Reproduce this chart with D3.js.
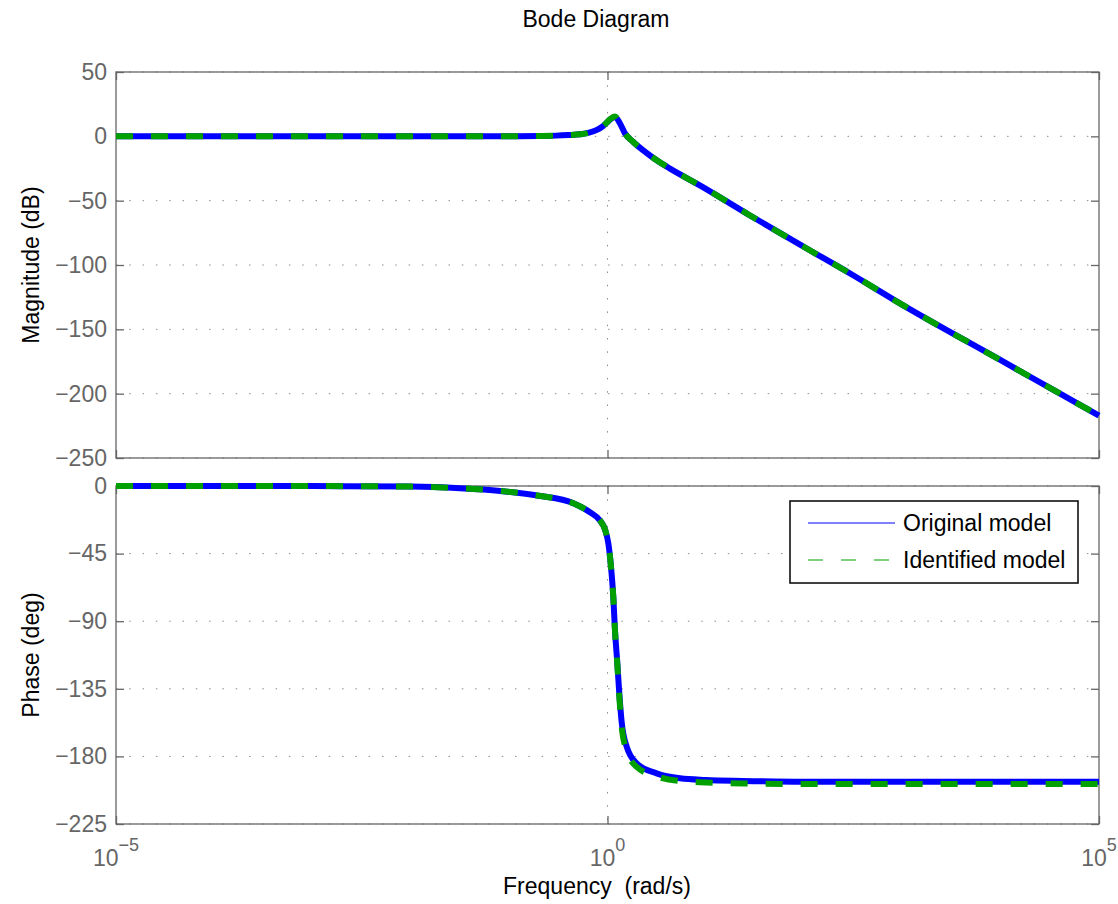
<!DOCTYPE html>
<html>
<head>
<meta charset="utf-8">
<script src="https://cdn.jsdelivr.net/npm/d3@7"></script>
<style>
  body { margin: 0; background: #fff; }
  text { font-family: "Liberation Sans", Arial, Helvetica, sans-serif; }
</style>
</head>
<body>
<div id="chart"></div>
<script>
// frequency points (rad/s) and values
const freqMag = [1e-5, 1e-4, 1e-3, 1e-2, 0.1, 0.2, 0.3, 0.4, 0.525, 0.65, 0.78, 0.9, 0.98, 1.08, 1.19,
                 1.34, 1.5, 1.83, 2.31, 3.17, 4.33, 8.7, 28.2, 100, 300, 1000, 1e4, 1e5];
const magOriginal = [0, 0, 0, 0, 0.05, 0.25, 0.55, 1.0, 1.6, 2.8, 5.0, 8.0, 10.5, 13.5, 15.0,
                     10, 2.5, -4.4, -10.9, -18.6, -25.1, -38.1, -61.5, -86, -107, -131, -174, -217];
const magIdentified = [0, 0, 0, 0, 0.05, 0.25, 0.55, 1.0, 1.6, 2.8, 5.0, 8.0, 10.6, 13.7, 15.4,
                       10, 2.5, -4.4, -10.9, -18.6, -25.1, -38.1, -61.5, -86, -107, -131, -174, -217];

const freqPhase = [1e-5, 1e-4, 1e-3, 1e-2, 0.0316, 0.081, 0.2, 0.449, 0.664, 0.839, 0.944, 1.019, 1.079,
                   1.146, 1.191, 1.259, 1.318, 1.393, 1.567, 1.98, 3.16, 5.47, 10, 24, 100, 1e3, 1e4, 1e5];
const phaseOriginal = [0, 0, -0.05, -0.4, -1.5, -3.3, -6.5, -11.5, -17.5, -23, -29, -38, -52,
                       -74, -96, -118, -138, -157, -173.5, -184.6, -191.3, -194.6, -195.7, -196.3, -196.8, -196.8, -196.8, -196.8];
const phaseIdentified = [0, 0, -0.05, -0.4, -1.5, -3.3, -6.5, -11.5, -17.5, -23, -29, -38, -52,
                         -74, -96, -119, -140, -160, -176, -187, -193.3, -196.4, -197.3, -198, -198.4, -198.4, -198.4, -198.4];

const magTicks = [50, 0, -50, -100, -150, -200, -250];
const phaseTicks = [0, -45, -90, -135, -180, -225];
const freqTicks = [1e-5, 1e0, 1e5];
const freqTickExp = ["\u22125", "0", "5"];
const seriesNames = ["Original model", "Identified model"];

const width = 1118;
const height = 904;
const left = 116, right = 1099;
const magPanel = {top: 72, bottom: 458};
const phasePanel = {top: 486, bottom: 824};

const blue = "#0000ff";
const green = "#00a000";
const axisGray = "#666666";
const fontSize = 23;

const svg = d3.select("#chart").append("svg")
    .attr("width", width)
    .attr("height", height);

const x = d3.scaleLog().domain([1e-5, 1e5]).range([left, right]);
const yMag = d3.scaleLinear().domain([-250, 50]).range([magPanel.bottom, magPanel.top]);
const yPhase = d3.scaleLinear().domain([-225, 0]).range([phasePanel.bottom, phasePanel.top]);

function minusFmt(d) { return d < 0 ? "\u2212" + Math.abs(d) : String(d); }

function drawPanel(y, panel, ticks) {
    const g = svg.append("g");
    // grid
    g.selectAll(".hgrid").data(ticks).enter().append("line")
        .attr("x1", left).attr("x2", right)
        .attr("y1", d => y(d)).attr("y2", d => y(d))
        .attr("stroke", "#8a8a8a").attr("stroke-width", 1)
        .attr("stroke-dasharray", "1.5,11.8");
    g.append("line")
        .attr("x1", x(1)).attr("x2", x(1))
        .attr("y1", panel.top).attr("y2", panel.bottom)
        .attr("stroke", "#8a8a8a").attr("stroke-width", 1)
        .attr("stroke-dasharray", "1.5,11.8");

    // box
    g.append("rect")
        .attr("x", left).attr("y", panel.top)
        .attr("width", right - left).attr("height", panel.bottom - panel.top)
        .attr("fill", "none").attr("stroke", axisGray).attr("stroke-width", 1.3);

    const yAxis = d3.axisLeft(y).tickValues(ticks).tickFormat(minusFmt)
        .tickSizeInner(-8).tickSizeOuter(0).tickPadding(9);
    const yAxisR = d3.axisRight(y).tickValues(ticks).tickFormat("")
        .tickSizeInner(-8).tickSizeOuter(0);
    const xTop = d3.axisTop(x).tickValues(freqTicks).tickFormat("")
        .tickSizeInner(-8).tickSizeOuter(0);
    const xBot = d3.axisBottom(x).tickValues(freqTicks).tickFormat("")
        .tickSizeInner(-8).tickSizeOuter(0);

    const ya = g.append("g").attr("transform", `translate(${left},0)`).call(yAxis);
    g.append("g").attr("transform", `translate(${right},0)`).call(yAxisR);
    g.append("g").attr("transform", `translate(0,${panel.top})`).call(xTop);
    g.append("g").attr("transform", `translate(0,${panel.bottom})`).call(xBot);

    g.selectAll(".domain").remove();
    g.selectAll(".tick line").attr("stroke", axisGray).attr("stroke-width", 1.3);
    ya.selectAll("text")
        .attr("font-size", fontSize).attr("fill", axisGray)
        .attr("font-family", "Liberation Sans, Arial, sans-serif");
    return g;
}

drawPanel(yMag, magPanel, magTicks);
drawPanel(yPhase, phasePanel, phaseTicks);

// x tick labels with exponents
const xl = svg.append("g");
freqTicks.forEach((f, i) => {
    const t = xl.append("text")
        .attr("x", x(f)).attr("y", 866)
        .attr("text-anchor", "middle")
        .attr("font-size", fontSize).attr("fill", axisGray);
    t.append("tspan").text("10");
    t.append("tspan").attr("dy", -15).attr("font-size", 18).text(freqTickExp[i]);
});

// lines
const magLine = (vals) => d3.line()
    .x((d, i) => x(freqMag[i]))
    .y(d => yMag(d))
    .curve(d3.curveMonotoneX)(vals);
const phaseLine = (vals) => d3.line()
    .x((d, i) => x(freqPhase[i]))
    .y(d => yPhase(d))
    .curve(d3.curveMonotoneX)(vals);

const lines = svg.append("g");
lines.append("path").attr("d", magLine(magOriginal))
    .attr("fill", "none").attr("stroke", blue).attr("stroke-width", 6);
lines.append("path").attr("d", magLine(magIdentified))
    .attr("fill", "none").attr("stroke", green).attr("stroke-width", 6)
    .attr("stroke-dasharray", "17,18");
lines.append("path").attr("d", phaseLine(phaseOriginal))
    .attr("fill", "none").attr("stroke", blue).attr("stroke-width", 6);
lines.append("path").attr("d", phaseLine(phaseIdentified))
    .attr("fill", "none").attr("stroke", green).attr("stroke-width", 6)
    .attr("stroke-dasharray", "17,18");

// titles
svg.append("text").attr("x", 596).attr("y", 27)
    .attr("text-anchor", "middle").attr("font-size", fontSize).attr("fill", "#000")
    .text("Bode Diagram");
svg.append("text").attr("x", 597).attr("y", 894)
    .attr("text-anchor", "middle").attr("font-size", fontSize).attr("fill", "#000")
    .text("Frequency\u00a0\u00a0(rad/s)");
svg.append("text")
    .attr("transform", `translate(39,${(magPanel.top + magPanel.bottom) / 2}) rotate(-90)`)
    .attr("text-anchor", "middle").attr("font-size", fontSize).attr("fill", "#000")
    .text("Magnitude (dB)");
svg.append("text")
    .attr("transform", `translate(39,${(phasePanel.top + phasePanel.bottom) / 2}) rotate(-90)`)
    .attr("text-anchor", "middle").attr("font-size", fontSize).attr("fill", "#000")
    .text("Phase (deg)");

// legend
const legend = svg.append("g");
legend.append("rect")
    .attr("x", 790).attr("y", 501).attr("width", 288).attr("height", 82)
    .attr("fill", "#fff").attr("stroke", "#000").attr("stroke-width", 1.5);
const legendItems = legend.selectAll(".item").data(seriesNames).enter().append("g")
    .attr("transform", (d, i) => `translate(0,${523 + i * 37})`);
legendItems.append("line")
    .attr("x1", 808).attr("x2", 895).attr("y1", 0).attr("y2", 0)
    .attr("stroke", (d, i) => i === 0 ? blue : green)
    .attr("stroke-width", 1.2)
    .attr("stroke-dasharray", (d, i) => i === 0 ? null : "15,18");
legendItems.append("text")
    .attr("x", 903).attr("y", 8)
    .attr("font-size", fontSize).attr("fill", "#000")
    .text(d => d);
</script>
</body>
</html>
